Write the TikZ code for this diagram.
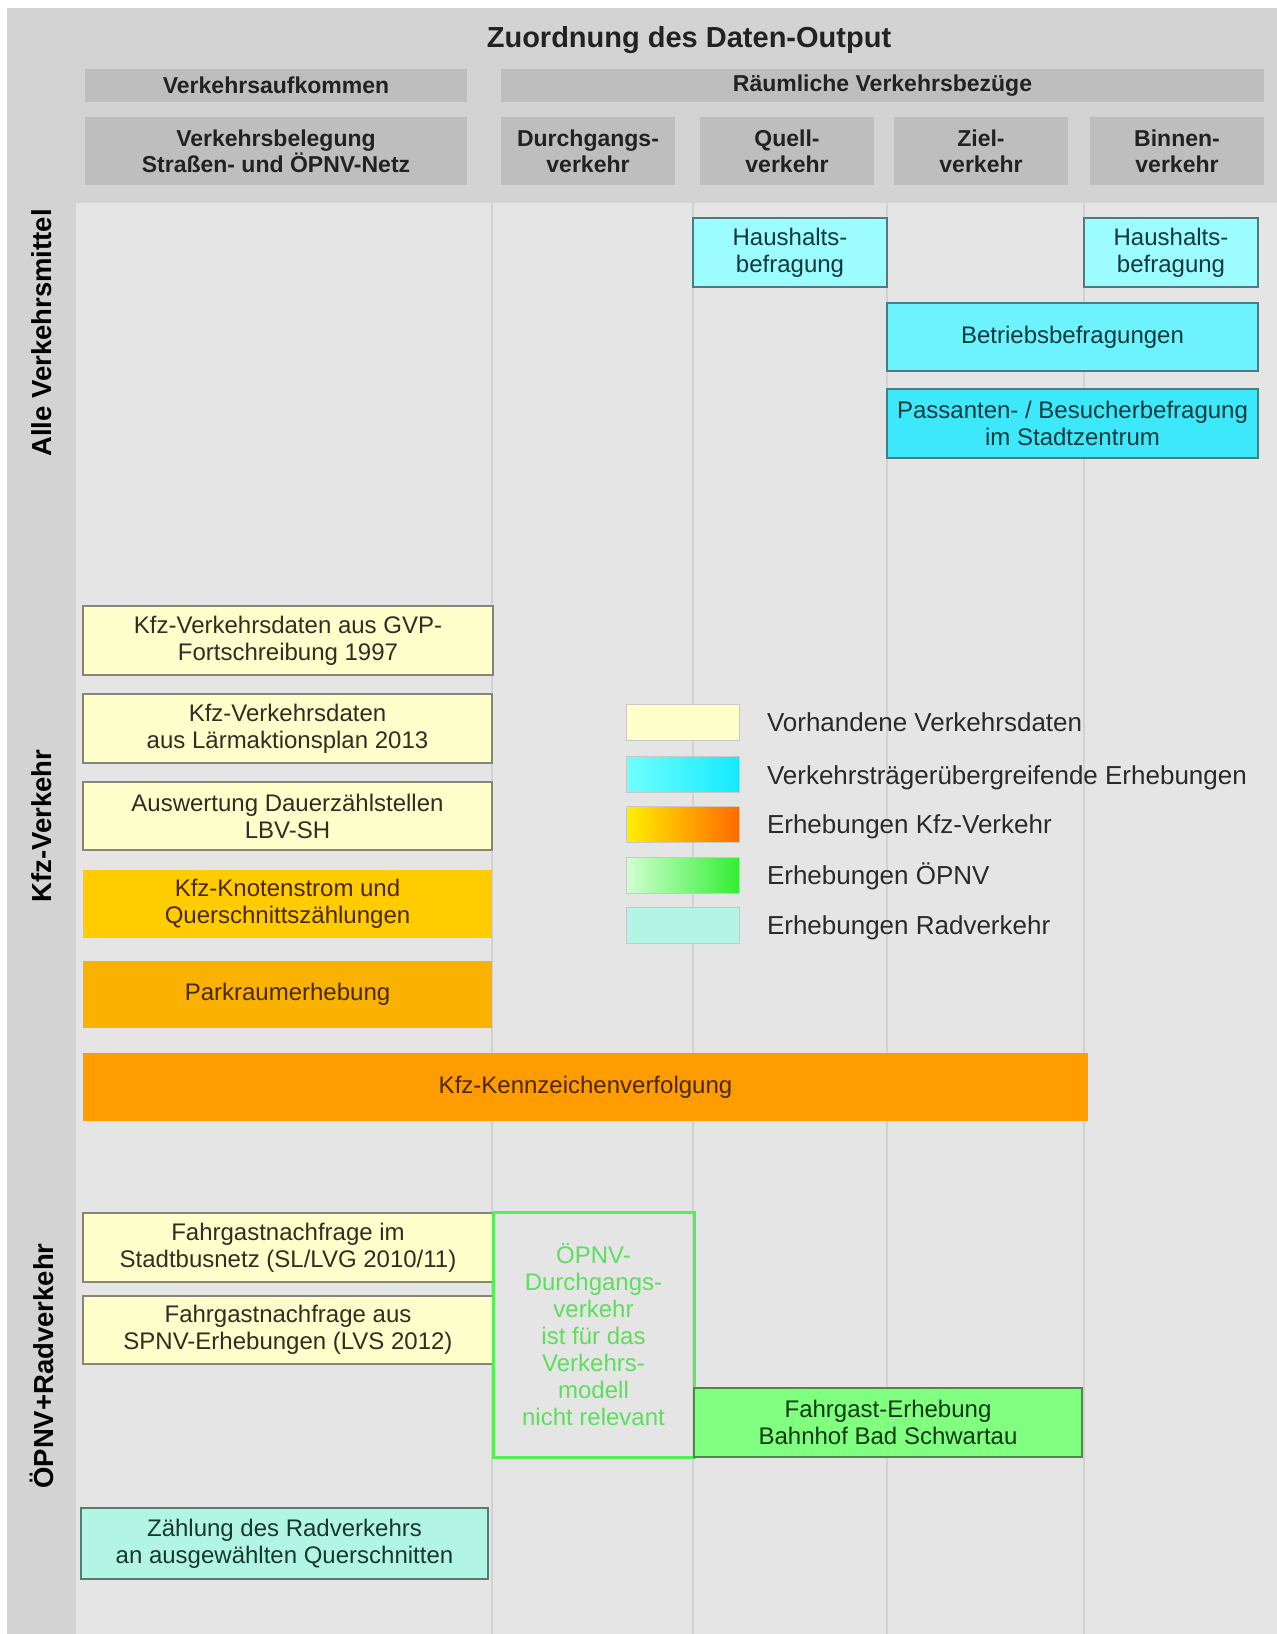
\documentclass[tikz,border=0pt]{standalone}
\usepackage{fontspec}
\setmainfont{Liberation Sans}
\definecolor{outergrey}{HTML}{D3D3D3}
\definecolor{contentgrey}{HTML}{E5E5E5}
\definecolor{hdrgrey}{HTML}{BEBEBE}
\definecolor{hdrtext}{HTML}{222222}
\definecolor{gridc}{HTML}{D2D2D2}
\definecolor{swline}{HTML}{C8C8C8}
\definecolor{yfill}{HTML}{FFFFCC}
\definecolor{yline}{HTML}{85857A}
\definecolor{ytext}{HTML}{2E2E22}
\definecolor{cfillA}{HTML}{9CFCFF}
\definecolor{cfillB}{HTML}{6CF3FD}
\definecolor{cfillC}{HTML}{3DE8FB}
\definecolor{cline}{HTML}{4F7B7E}
\definecolor{ctext}{HTML}{0E3A3C}
\definecolor{knotfill}{HTML}{FFCC00}
\definecolor{parkfill}{HTML}{F9B200}
\definecolor{kennfill}{HTML}{FF9C00}
\definecolor{otext}{HTML}{4A2800}
\definecolor{gfill}{HTML}{80FF80}
\definecolor{gline}{HTML}{4C8A4C}
\definecolor{gtext}{HTML}{0C3A0C}
\definecolor{gout}{HTML}{55EE55}
\definecolor{gouttext}{HTML}{5EDD5E}
\definecolor{rfill}{HTML}{B2F5E4}
\definecolor{rline}{HTML}{5A7A6E}
\definecolor{rtext}{HTML}{163A2C}
\definecolor{legtextc}{HTML}{2A2A2A}
\definecolor{swcl}{HTML}{70FFFF}
\definecolor{swcr}{HTML}{14EAFF}
\definecolor{swol}{HTML}{FFF000}
\definecolor{swor}{HTML}{FF6A00}
\definecolor{swgl}{HTML}{D2FFD2}
\definecolor{swgr}{HTML}{33EE33}
\begin{document}
\begin{tikzpicture}[x=1pt,y=-1pt,
  every node/.style={inner sep=0pt, outer sep=0pt},
  hdr/.style={fill=hdrgrey, text=hdrtext, align=center, font=\fontsize{23}{26}\selectfont\bfseries},
  box/.style={line width=1.8pt, align=center, font=\fontsize{24}{27}\selectfont},
  ybox/.style={box, fill=yfill, draw=yline, text=ytext},
  cbox/.style={box, draw=cline, text=ctext},
  obox/.style={box, text=otext},
  gbox/.style={box, fill=gfill, draw=gline, text=gtext},
  rbox/.style={box, fill=rfill, draw=rline, text=rtext},
  side/.style={rotate=90, text=black, font=\fontsize{27.5}{30}\selectfont\bfseries},
  swatch/.style={draw=swline, line width=1pt, minimum width=113pt, minimum height=36pt},
  legtext/.style={anchor=base west, text=legtextc, font=\fontsize{26}{30}\selectfont},
  gridline/.style={draw=gridc, line width=1.2pt}
]
\useasboundingbox (0,0) rectangle (1277,1634);
% backgrounds
\fill[white] (0,0) rectangle (1277,1634);
\fill[outergrey] (7,8) rectangle (1277,1634);
\fill[contentgrey] (76,203) rectangle (1277,1634);
% column grid lines
\coordinate (g1t) at (492,203); \coordinate (g1b) at (492,1634);
\coordinate (g2t) at (693,203); \coordinate (g2b) at (693,1634);
\coordinate (g3t) at (887,203); \coordinate (g3b) at (887,1634);
\coordinate (g4t) at (1084,203); \coordinate (g4b) at (1084,1634);
\draw[gridline] (g1t) -- (g1b);
\draw[gridline] (g2t) -- (g2b);
\draw[gridline] (g3t) -- (g3b);
\draw[gridline] (g4t) -- (g4b);

% title and headers
\node[text=hdrtext, font=\fontsize{29}{32}\selectfont\bfseries] (title) at (689,40) {Zuordnung des Daten-Output};
\node[hdr, minimum width=382pt, minimum height=33pt] (hva) at (276,85.5) {Verkehrsaufkommen};
\node[hdr, minimum width=763pt, minimum height=33pt] (hrv) at (882.5,85.5) {Räumliche Verkehrsbezüge};
\node[hdr, minimum width=382pt, minimum height=68pt] (hvb) at (276,151) {Verkehrsbelegung\\Straßen- und ÖPNV-Netz};
\node[hdr, minimum width=174pt, minimum height=68pt] (hdv) at (588,151) {Durchgangs-\\verkehr};
\node[hdr, minimum width=174pt, minimum height=68pt] (hqv) at (787,151) {Quell-\\verkehr};
\node[hdr, minimum width=174pt, minimum height=68pt] (hzv) at (981,151) {Ziel-\\verkehr};
\node[hdr, minimum width=174pt, minimum height=68pt] (hbv) at (1177,151) {Binnen-\\verkehr};

% side labels
\node[side] (sall) at (42,333) {Alle Verkehrsmittel};
\node[side] (skfz) at (42,826) {Kfz-Verkehr};
\node[side] (soep) at (42,1366) {ÖPNV+Radverkehr};

% Alle Verkehrsmittel
\node[cbox, fill=cfillA, minimum width=194pt, minimum height=69pt] (hh1) at (790,252.5) {Haushalts-\\befragung};
\node[cbox, fill=cfillA, minimum width=174pt, minimum height=69pt] (hh2) at (1171,252.5) {Haushalts-\\befragung};
\node[cbox, fill=cfillB, minimum width=371pt, minimum height=68pt] (betr) at (1072.5,337) {Betriebsbefragungen};
\node[cbox, fill=cfillC, minimum width=371pt, minimum height=69pt] (pass) at (1072.5,423.5) {Passanten- / Besucherbefragung\\im Stadtzentrum};

% Kfz-Verkehr
\node[ybox, minimum width=410pt, minimum height=69pt] (gvp) at (288,640.5) {Kfz-Verkehrsdaten aus GVP-\\Fortschreibung 1997};
\node[ybox, minimum width=409pt, minimum height=69pt] (laerm) at (287.5,728.5) {Kfz-Verkehrsdaten\\aus Lärmaktionsplan 2013};
\node[ybox, minimum width=409pt, minimum height=68pt] (dauer) at (287.5,816) {Auswertung Dauerzählstellen\\LBV-SH};
\node[obox, fill=knotfill, minimum width=409pt, minimum height=68pt] (knot) at (287.5,904) {Kfz-Knotenstrom und\\Querschnittszählungen};
\node[obox, fill=parkfill, minimum width=409pt, minimum height=67pt] (park) at (287.5,994.5) {Parkraumerhebung};
\node[obox, fill=kennfill, minimum width=1005pt, minimum height=68pt] (kenn) at (585.5,1087) {Kfz-Kennzeichenverfolgung};

% OePNV + Radverkehr
\node[ybox, minimum width=410pt, minimum height=69pt] (bus) at (288,1247.5) {Fahrgastnachfrage im\\Stadtbusnetz (SL/LVG 2010/11)};
\node[ybox, minimum width=410pt, minimum height=68pt] (spnv) at (288,1330) {Fahrgastnachfrage aus\\SPNV-Erhebungen (LVS 2012)};
\node[box, draw=gout, line width=3pt, text=gouttext, minimum width=201pt, minimum height=245pt] (oedv) at (593.5,1334.5) {ÖPNV-\\Durchgangs-\\verkehr\\ist für das\\Verkehrs-\\modell\\nicht relevant};
\node[gbox, minimum width=388pt, minimum height=69pt] (bahn) at (888,1422.5) {Fahrgast-Erhebung\\Bahnhof Bad Schwartau};
\node[rbox, minimum width=407pt, minimum height=71pt] (rad) at (284.5,1543.5) {Zählung des Radverkehrs\\an ausgewählten Querschnitten};

% legend
\node[swatch, fill=yfill] (sw1) at (682.5,722) {};
\node[swatch, left color=swcl, right color=swcr] (sw2) at (682.5,774.5) {};
\node[swatch, left color=swol, right color=swor] (sw3) at (682.5,824) {};
\node[swatch, left color=swgl, right color=swgr] (sw4) at (682.5,875) {};
\node[swatch, fill=rfill] (sw5) at (682.5,925) {};
\node[legtext] (lt1) at (767,731.5) {Vorhandene Verkehrsdaten};
\node[legtext] (lt2) at (767,784) {Verkehrsträgerübergreifende Erhebungen};
\node[legtext] (lt3) at (767,833.5) {Erhebungen Kfz-Verkehr};
\node[legtext] (lt4) at (767,884.5) {Erhebungen ÖPNV};
\node[legtext] (lt5) at (767,934.5) {Erhebungen Radverkehr};
\end{tikzpicture}
\end{document}
